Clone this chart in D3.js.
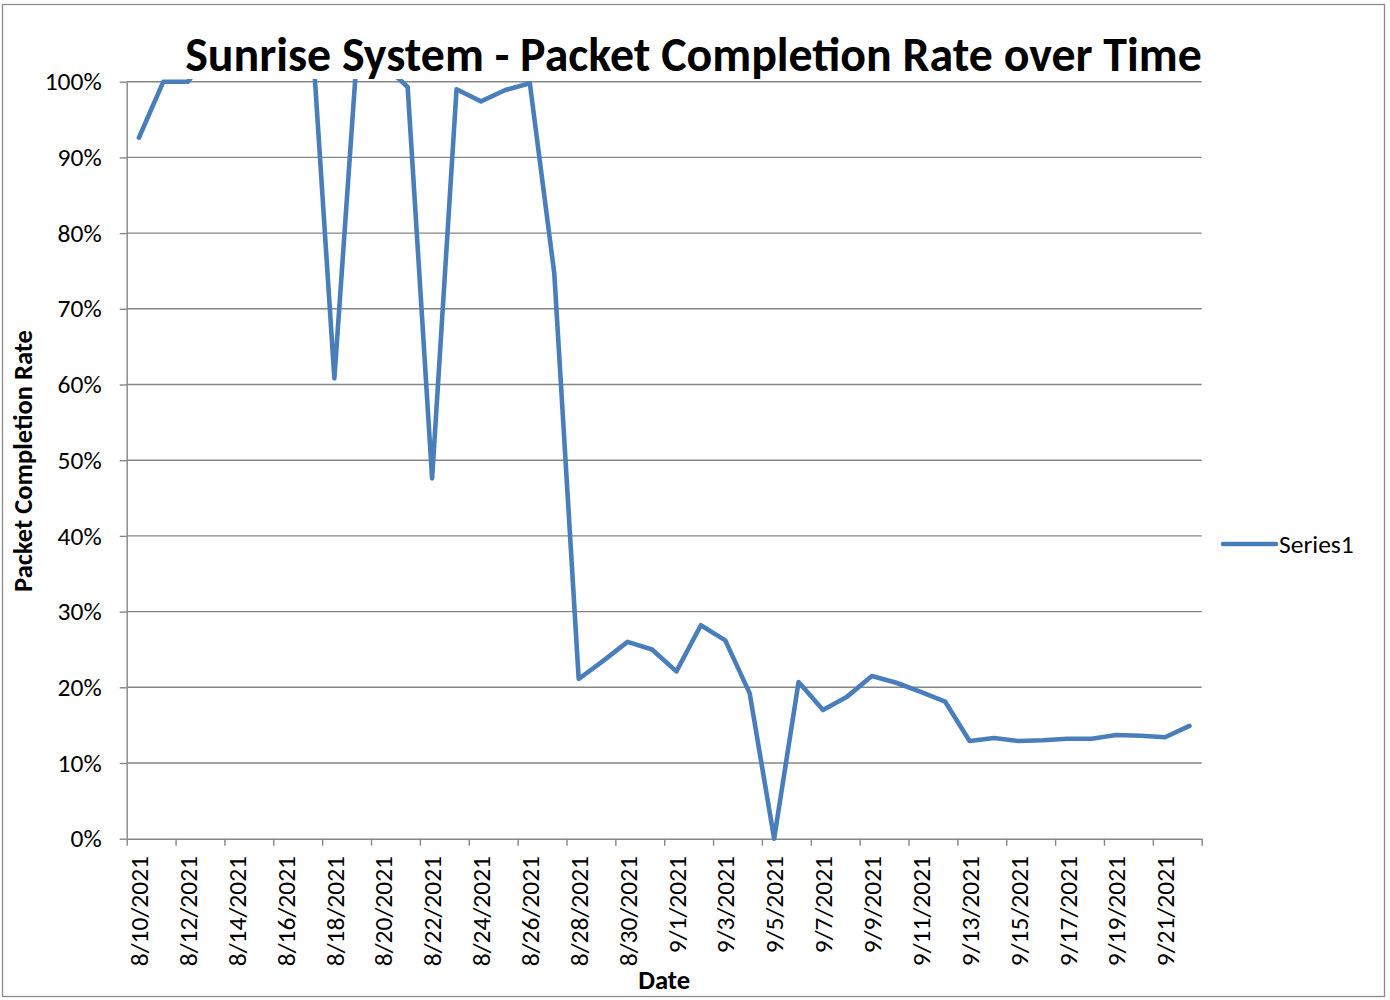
<!DOCTYPE html>
<html>
<head>
<meta charset="utf-8">
<script src="https://cdn.jsdelivr.net/npm/d3@7"></script>
<style>
  html, body { margin: 0; padding: 0; background: #ffffff; }
  svg { display: block; }
  text { font-family: Carlito, Calibri, Lato, "Open Sans", sans-serif; fill: #000; }
</style>
</head>
<body>
<svg id="chart" width="1390" height="1000"></svg>
<script>
// Daily packet completion rate (fraction of packets completed)
const dates = [
  "8/10/2021","8/11/2021","8/12/2021","8/13/2021","8/14/2021","8/15/2021","8/16/2021","8/17/2021",
  "8/18/2021","8/19/2021","8/20/2021","8/21/2021","8/22/2021","8/23/2021","8/24/2021","8/25/2021",
  "8/26/2021","8/27/2021","8/28/2021","8/29/2021","8/30/2021","8/31/2021","9/1/2021","9/2/2021",
  "9/3/2021","9/4/2021","9/5/2021","9/6/2021","9/7/2021","9/8/2021","9/9/2021","9/10/2021",
  "9/11/2021","9/12/2021","9/13/2021","9/14/2021","9/15/2021","9/16/2021","9/17/2021","9/18/2021",
  "9/19/2021","9/20/2021","9/21/2021","9/22/2021"
];
const rates = [
  0.926, 1.000, 1.000, 1.040, 1.060, 1.030, 1.050, 1.104,
  0.608, 1.071, 1.023, 0.993, 0.476, 0.990, 0.974, 0.989,
  0.998, 0.747, 0.211, 0.235, 0.260, 0.250, 0.221, 0.282,
  0.262, 0.192, 0.000, 0.207, 0.170, 0.188, 0.215, 0.206,
  0.194, 0.181, 0.129, 0.133, 0.129, 0.130, 0.132, 0.132,
  0.137, 0.136, 0.134, 0.149
];
const xTickLabels = [
  "8/10/2021","8/12/2021","8/14/2021","8/16/2021","8/18/2021","8/20/2021","8/22/2021",
  "8/24/2021","8/26/2021","8/28/2021","8/30/2021","9/1/2021","9/3/2021","9/5/2021",
  "9/7/2021","9/9/2021","9/11/2021","9/13/2021","9/15/2021","9/17/2021","9/19/2021","9/21/2021"
];
const yTicks = [0, 0.1, 0.2, 0.3, 0.4, 0.5, 0.6, 0.7, 0.8, 0.9, 1.0];
const seriesName = "Series1";
const chartTitle = "Sunrise System - Packet Completion Rate over Time";
const xTitle = "Date";
const yTitle = "Packet Completion Rate";

const plot = { left: 126.7, right: 1201.7, top: 81.7, bottom: 838.7 };
const gridColor = "#868686";
const lineColor = "#4a7ebb";
const labelSize = 25.5;

const svg = d3.select("#chart");
const parse = d3.timeParse("%m/%d/%Y");
const days = dates.map(parse);
const endDay = d3.timeDay.offset(days[days.length - 1], 1);

const x = d3.scaleTime().domain([days[0], endDay]).range([plot.left, plot.right]);
const y = d3.scaleLinear().domain([0, 1]).range([plot.bottom, plot.top]);
const midDay = d => d3.timeHour.offset(d, 12);

// outer chart frame
svg.append("rect")
  .attr("x", 2.5).attr("y", 4.5).attr("width", 1382).attr("height", 992)
  .attr("fill", "#fff").attr("stroke", "#8c8c8c").attr("stroke-width", 1.3);

// horizontal gridlines
svg.append("g").selectAll("line")
  .data(yTicks.filter(v => v > 0))
  .join("line")
  .attr("x1", plot.left).attr("x2", plot.right)
  .attr("y1", d => y(d)).attr("y2", d => y(d))
  .attr("stroke", gridColor).attr("stroke-width", 1.4);

// y axis
const yAxis = svg.append("g")
  .attr("transform", `translate(${plot.left},0)`)
  .call(d3.axisLeft(y).tickValues(yTicks).tickSize(7).tickSizeOuter(0)
    .tickPadding(18).tickFormat(d3.format(".0%")));
yAxis.selectAll("path, line").attr("stroke", gridColor).attr("stroke-width", 1.4);
yAxis.selectAll("text").attr("font-size", labelSize).attr("fill", "#000")
  .attr("font-family", "Carlito, Calibri, Lato, sans-serif");

// x axis (tick marks every two days)
const xTickDates = xTickLabels.map(parse).concat([endDay]);
const xAxis = svg.append("g")
  .attr("transform", `translate(0,${plot.bottom})`)
  .call(d3.axisBottom(x).tickValues(xTickDates).tickSize(7).tickSizeOuter(0).tickFormat(""));
xAxis.selectAll("path, line").attr("stroke", gridColor).attr("stroke-width", 1.4);

// x tick labels, centred on each labelled day
svg.append("g").selectAll("text")
  .data(xTickLabels)
  .join("text")
  .attr("transform", d => `translate(${x(midDay(parse(d)))},856) rotate(-90)`)
  .attr("text-anchor", "end")
  .attr("dy", "0.36em")
  .attr("font-size", labelSize)
  .text(d => d);

// series line, clipped to the plot area
svg.append("clipPath").attr("id", "plotClip")
  .append("rect")
  .attr("x", plot.left).attr("y", plot.top - 2.6)
  .attr("width", plot.right - plot.left).attr("height", plot.bottom - plot.top + 6);

const line = d3.line()
  .x((d, i) => x(midDay(days[i])))
  .y(d => y(d));

svg.append("path")
  .datum(rates)
  .attr("clip-path", "url(#plotClip)")
  .attr("d", line)
  .attr("fill", "none")
  .attr("stroke", lineColor)
  .attr("stroke-width", 4.6)
  .attr("stroke-linejoin", "round")
  .attr("stroke-linecap", "round");

// helper: fit a text element's font size to a target length
function fitText(sel, target, base) {
  sel.attr("font-size", base);
  const len = sel.node().getComputedTextLength();
  sel.attr("font-size", base * target / len);
}

// chart title
const title = svg.append("text")
  .attr("x", (185 + 1202) / 2).attr("y", 71)
  .attr("text-anchor", "middle")
  .attr("font-weight", "bold")
  .text(chartTitle);
fitText(title, 1017, 44);

// axis titles
const yt = svg.append("text")
  .attr("transform", `translate(32,461) rotate(-90)`)
  .attr("text-anchor", "middle")
  .attr("font-weight", "bold")
  .text(yTitle);
fitText(yt, 262, 22);

const xt = svg.append("text")
  .attr("x", (plot.left + plot.right) / 2).attr("y", 989)
  .attr("text-anchor", "middle")
  .attr("font-weight", "bold")
  .text(xTitle);
fitText(xt, 52, 24);

// legend
const legend = svg.append("g");
legend.append("line")
  .attr("x1", 1223).attr("x2", 1276).attr("y1", 544).attr("y2", 544)
  .attr("stroke", lineColor).attr("stroke-width", 4.6).attr("stroke-linecap", "round");
legend.append("text")
  .attr("x", 1279).attr("y", 544).attr("dy", "0.36em")
  .attr("font-size", labelSize)
  .text(seriesName);
</script>
</body>
</html>
